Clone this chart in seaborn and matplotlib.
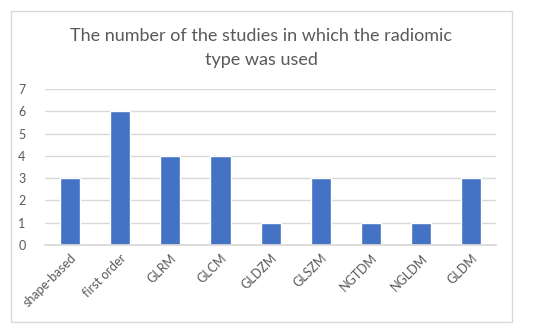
import matplotlib
matplotlib.use("Agg")
import matplotlib.pyplot as plt
from matplotlib.patches import Rectangle
import seaborn as sns
import pandas as pd

# Data
categories = ["shape-based", "first order", "GLRM", "GLCM", "GLDZM",
              "GLSZM", "NGTDM", "NGLDM", "GLDM"]
counts = [3, 6, 4, 4, 1, 3, 1, 1, 3]

df = pd.DataFrame({"type": categories, "studies": counts})

sns.set_theme(style="white")
plt.rcParams["font.family"] = ["Lato", "DejaVu Sans"]

fig = plt.figure(figsize=(5.5, 3.33), dpi=100)
ax = fig.add_axes([0.082, 0.264, 0.82, 0.469])

# outer chart frame
fig.patches.append(Rectangle((0.02, 0.033), 0.911, 0.934, transform=fig.transFigure,
                             fill=False, edgecolor="#d9d9d9", linewidth=1))

sns.barplot(data=df, x="type", y="studies", color="#4472C4", width=0.4,
            saturation=1, ax=ax)

ax.set_ylim(0, 7)
ax.set_yticks(range(0, 8))
ax.yaxis.grid(True, color="#d9d9d9", linewidth=1)
ax.set_axisbelow(True)
for s in ["top", "right", "left"]:
    ax.spines[s].set_visible(False)
ax.spines["bottom"].set_color("#d9d9d9")
ax.set_xlabel("")
ax.set_ylabel("")
ax.tick_params(axis="both", length=0, labelsize=9, colors="#595959")
ax.tick_params(axis="y", pad=14)
ax.tick_params(axis="x", pad=5)
plt.setp(ax.get_xticklabels(), rotation=45, ha="right", rotation_mode="anchor")

fig.text(0.475, 0.855, "The number of the studies in which the radiomic\ntype was used",
         ha="center", va="center", fontsize=13, color="#595959", linespacing=1.6)

fig.savefig("out.png", dpi=100)
